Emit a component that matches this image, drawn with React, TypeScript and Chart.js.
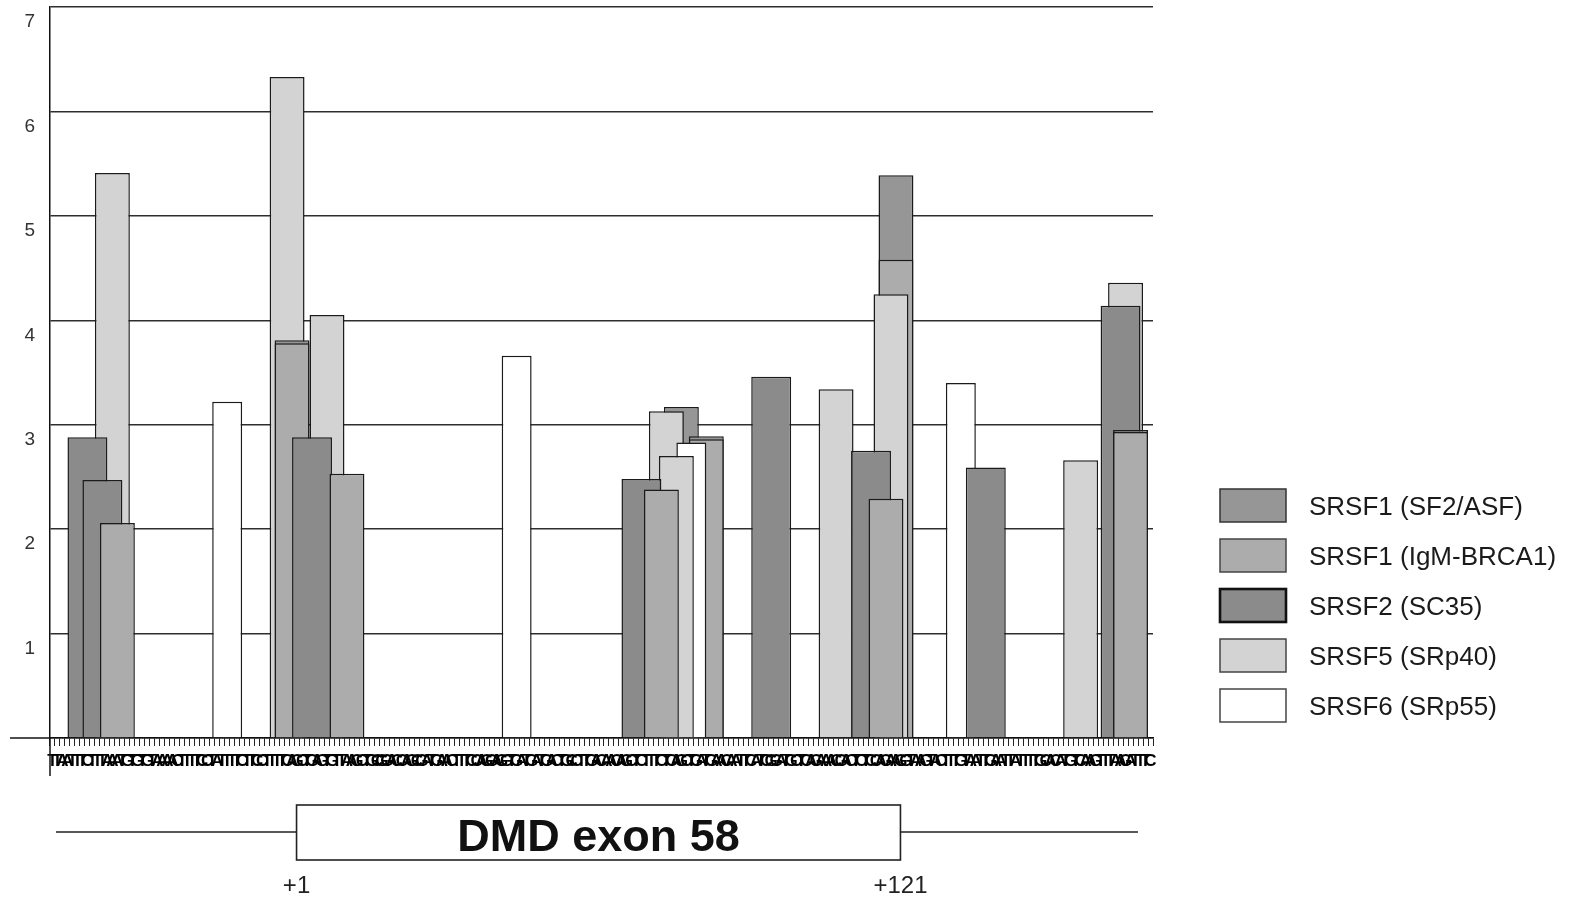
import React, { useEffect, useRef } from 'react';
import { Chart, registerables } from 'chart.js';

Chart.register(...registerables);

// ---------------- data ----------------
// analysed sequence: 50 nt intron + 121 nt exon 58 + 50 nt intron (one tick per nucleotide)
const SEQUENCE_CHUNKS = [
  'ttaatttctt', 'taaatgtgtg', 'taaaactttt', 'cctattttct', 'tccttttcag',
  'CTGAGTGTTA', 'AGCTGCGGAC', 'CAGCGATGAA', 'CTTTCCAGGA', 'GGTGATGATG', 'ACTGCCTTGA',
  'CAACAGCTCT', 'TTCTCAGCTG', 'ATGAACAATT', 'CATCGGATGC', 'TCAGAAACGA', 'CTCTCCAGAA', 'G',
  'gtaagtactt', 'tgtaattgaa', 'ttattttgca', 'catgtcaagt', 'ttaagatttc',
];
const NUCLEOTIDES = SEQUENCE_CHUNKS.join('').toUpperCase().split('');

const EXON_FIRST = 51; // sequence position of exon nucleotide +1
const EXON_LAST = 171; // sequence position of exon nucleotide +121
const EXON_NAME = 'DMD exon 58';
const EXON_START_LABEL = '+1';
const EXON_END_LABEL = '+121';

const SERIES_LABELS = ['SRSF1 (SF2/ASF)', 'SRSF1 (IgM-BRCA1)', 'SRSF2 (SC35)', 'SRSF5 (SRp40)', 'SRSF6 (SRp55)'];
const MOTIF_LENGTHS = [7, 7, 8, 7, 6];
const SERIES_COLORS = ['#969696', '#acacac', '#8b8b8b', '#d3d3d3', '#ffffff'];

// motif start positions (1-based, in the analysed sequence) and scores
const SF2ASF_POSITIONS = [46, 124, 129, 167, 214];
const SF2ASF_SCORES = [3.81, 3.17, 2.89, 5.39, 2.95];

const IGM_BRCA1_POSITIONS = [11, 46, 57, 120, 129, 165, 167, 214];
const IGM_BRCA1_SCORES = [2.06, 3.78, 2.53, 2.38, 2.86, 2.29, 4.58, 2.93];

const SC35_POSITIONS = [4, 7, 49, 115, 141, 161, 184, 211];
const SC35_SCORES = [2.88, 2.47, 2.88, 2.48, 3.46, 2.75, 2.59, 4.14];

const SRP40_POSITIONS = [10, 45, 53, 121, 123, 155, 166, 204, 213];
const SRP40_SCORES = [5.41, 6.33, 4.05, 3.13, 2.7, 3.34, 4.25, 2.66, 4.36];

const SRP55_POSITIONS = [33, 91, 126, 180];
const SRP55_SCORES = [3.22, 3.66, 2.83, 3.4];

const SERIES_POSITIONS = [SF2ASF_POSITIONS, IGM_BRCA1_POSITIONS, SC35_POSITIONS, SRP40_POSITIONS, SRP55_POSITIONS];
const SERIES_SCORES = [SF2ASF_SCORES, IGM_BRCA1_SCORES, SC35_SCORES, SRP40_SCORES, SRP55_SCORES];

const Y_MIN = 0;
const Y_MAX = 7;

// ---------------- styling / layout ----------------
const LAYOUT = {
  width: 1583,
  height: 903,
  plotTop: 7,
  plotRightPad: 430,
  yAxisWidth: 50,
  xAxisHeight: 165,
};

const LEGEND_STYLE = {
  left: 1220,
  top: 489,
  step: 50,
  boxW: 66,
  boxH: 33,
  textX: 1309,
  font: '26px "Liberation Sans", Arial, sans-serif',
  borderWidths: [1.5, 1.5, 2.6, 1.5, 1.5],
  borderColors: ['#333', '#444', '#111', '#444', '#444'],
};

const EXON_STYLE = {
  lineY: 94,
  boxTop: 67,
  boxBottom: 122,
  nameBaseline: 113,
  posBaseline: 155,
  edgeShift: -3,
  lineLeftInset: 6,
  lineRightInset: 15,
};

// ---------------- datasets: one bar per motif hit, taller hits drawn behind ----------------
const buildDatasets = () => {
  const out: any[] = [];
  SERIES_LABELS.forEach((label, k) => {
    const w = MOTIF_LENGTHS[k];
    SERIES_POSITIONS[k].forEach((pos, j) => {
      const score = SERIES_SCORES[k][j];
      out.push({
        type: 'bar',
        label,
        parsing: false,
        data: [{ x: pos - 1 + Math.floor(w / 2), y: score }],
        backgroundColor: SERIES_COLORS[k],
        borderColor: '#1b1b1b',
        borderWidth: 1.5,
        grouped: false,
        categoryPercentage: 1,
        barPercentage: w,
        inflateAmount: 0,
        order: Math.round(score * 1000),
      });
    });
  });
  return out;
};

const extrasPlugin = {
  id: 'exonAndLegend',
  afterDraw(chart: any) {
    const { ctx, chartArea, scales } = chart;
    const x = scales.x;
    const y = scales.y;
    const y0 = y.getPixelForValue(0);
    ctx.save();

    // axis extensions
    ctx.strokeStyle = '#151515';
    ctx.lineWidth = 1.5;
    ctx.beginPath();
    ctx.moveTo(chartArea.left - 40, y0);
    ctx.lineTo(chartArea.left, y0);
    ctx.moveTo(chartArea.left, y0);
    ctx.lineTo(chartArea.left, y0 + 38);
    ctx.stroke();

    // exon diagram
    const half = (x.getPixelForValue(1) - x.getPixelForValue(0)) / 2;
    const bx0 = x.getPixelForValue(EXON_FIRST - 1) - half + EXON_STYLE.edgeShift;
    const bx1 = x.getPixelForValue(EXON_LAST - 1) + half + EXON_STYLE.edgeShift;
    const lineY = y0 + EXON_STYLE.lineY;
    ctx.strokeStyle = '#222';
    ctx.lineWidth = 1.6;
    ctx.beginPath();
    ctx.moveTo(chartArea.left + EXON_STYLE.lineLeftInset, lineY);
    ctx.lineTo(bx0, lineY);
    ctx.moveTo(bx1, lineY);
    ctx.lineTo(chartArea.right - EXON_STYLE.lineRightInset, lineY);
    ctx.stroke();
    const top = y0 + EXON_STYLE.boxTop;
    const bottom = y0 + EXON_STYLE.boxBottom;
    ctx.fillStyle = '#fff';
    ctx.fillRect(bx0, top, bx1 - bx0, bottom - top);
    ctx.strokeRect(bx0, top, bx1 - bx0, bottom - top);

    ctx.fillStyle = '#111';
    ctx.textAlign = 'center';
    ctx.textBaseline = 'alphabetic';
    ctx.font = 'bold 45px "Liberation Sans", Arial, sans-serif';
    ctx.fillText(EXON_NAME, (bx0 + bx1) / 2, y0 + EXON_STYLE.nameBaseline);
    ctx.font = '24px "Liberation Sans", Arial, sans-serif';
    ctx.fillStyle = '#222';
    ctx.fillText(EXON_START_LABEL, bx0, y0 + EXON_STYLE.posBaseline);
    ctx.fillText(EXON_END_LABEL, bx1, y0 + EXON_STYLE.posBaseline);

    // legend
    const L = LEGEND_STYLE;
    SERIES_LABELS.forEach((label, k) => {
      const ty = L.top + k * L.step;
      ctx.fillStyle = SERIES_COLORS[k];
      ctx.fillRect(L.left, ty, L.boxW, L.boxH);
      ctx.strokeStyle = L.borderColors[k];
      ctx.lineWidth = L.borderWidths[k];
      ctx.strokeRect(L.left, ty, L.boxW, L.boxH);
      ctx.fillStyle = '#1a1a1a';
      ctx.font = L.font;
      ctx.textAlign = 'left';
      ctx.textBaseline = 'alphabetic';
      ctx.fillText(label, L.textX, ty + L.boxH / 2 + 9);
    });
    ctx.restore();
  },
};

export default function App() {
  const canvasRef = useRef<HTMLCanvasElement | null>(null);

  useEffect(() => {
    const canvas = canvasRef.current;
    if (!canvas) return;
    const chart = new Chart(canvas, {
      type: 'bar',
      data: {
        labels: NUCLEOTIDES,
        datasets: buildDatasets(),
      },
      options: {
        animation: false,
        responsive: true,
        maintainAspectRatio: false,
        events: [],
        layout: {
          padding: { top: LAYOUT.plotTop, right: LAYOUT.plotRightPad, bottom: 0, left: 0 },
        },
        plugins: {
          legend: { display: false },
          tooltip: { enabled: false },
          title: { display: false },
        },
        scales: {
          x: {
            type: 'category',
            offset: true,
            grid: {
              display: true,
              drawOnChartArea: false,
              drawTicks: true,
              tickLength: 8,
              tickColor: '#222',
              tickWidth: 1,
              offset: true,
            },
            border: { display: true, color: '#111', width: 1.5 },
            ticks: {
              autoSkip: false,
              maxRotation: 0,
              minRotation: 0,
              padding: 5,
              color: '#000',
              font: { family: '"Liberation Sans", Arial, sans-serif', size: 17, weight: 'bold' },
            },
            afterFit: (s: any) => {
              s.height = LAYOUT.xAxisHeight;
            },
          },
          y: {
            min: Y_MIN,
            max: Y_MAX,
            ticks: {
              stepSize: 1,
              labelOffset: 15,
              padding: 15,
              color: '#333',
              font: { family: '"Liberation Sans", Arial, sans-serif', size: 19 },
              callback: (v: any) => (Number(v) === 0 ? '' : String(v)),
            },
            grid: { color: '#2e2e2e', lineWidth: 1.5, drawTicks: false },
            border: { display: true, color: '#111', width: 1.5 },
            afterFit: (s: any) => {
              s.width = LAYOUT.yAxisWidth;
              s.paddingTop = 0;
              s.paddingBottom = 0;
            },
          },
        },
      } as any,
      plugins: [extrasPlugin],
    });
    return () => chart.destroy();
  }, []);

  return (
    <div style={{ position: 'fixed', left: 0, top: 0, width: LAYOUT.width, height: LAYOUT.height, background: '#fff' }}>
      <canvas ref={canvasRef} />
    </div>
  );
}
